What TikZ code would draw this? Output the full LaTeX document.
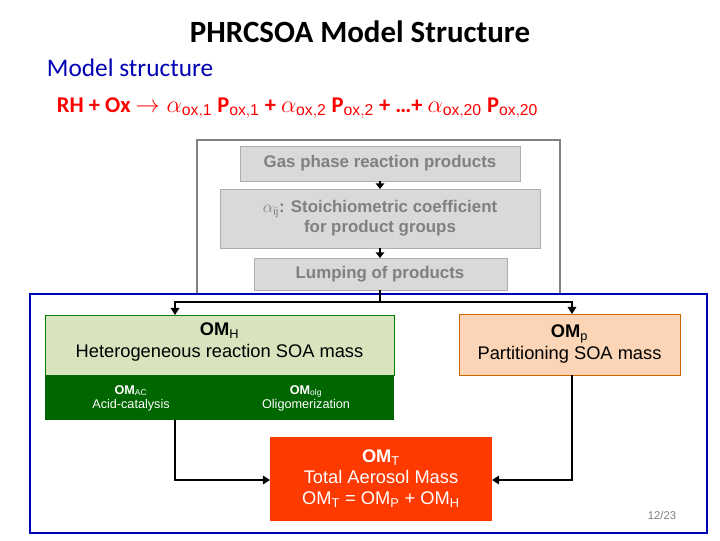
\documentclass[tikz,border=0pt]{standalone}
\usepackage{fontspec}
\setmainfont{Liberation Sans}
\newfontfamily\calibri{Carlito}
\usetikzlibrary{positioning, calc, arrows.meta}
\definecolor{gasgray}{RGB}{217,217,217}
\definecolor{txtgray}{RGB}{128,128,128}
\definecolor{omhgreen}{RGB}{215,228,189}
\definecolor{darkgreen}{RGB}{0,102,0}
\definecolor{ompeach}{RGB}{251,213,181}
\definecolor{omtred}{RGB}{255,58,0}
\definecolor{slideblue}{RGB}{0,0,180}

\begin{document}
\begin{tikzpicture}[x=0.025cm, y=-0.025cm,
  gastext/.style={text=txtgray, font=\bfseries\fontsize{12}{14}\selectfont, align=center},
  flow/.style={-{Triangle[length=5pt,width=6pt]}, line width=1.4pt},
  stage/.style={-{Triangle[length=4pt,width=6pt]}, line width=1pt},
  line/.style={line width=1.4pt}]
\useasboundingbox (0,0) rectangle (720,540);

% title lines
\node[font=\calibri\bfseries\fontsize{22}{24}\selectfont] (title) at (360,32) {PHRCSOA Model Structure};
\node[anchor=west, text=slideblue, font=\calibri\fontsize{18}{20}\selectfont] (sub) at (42,68) {Model structure};
\node[anchor=west, text=red, font=\calibri\bfseries\fontsize{16}{18}\selectfont] (eq) at (52,108)
  {RH + Ox $\rightarrow\alpha_{\mathrm{ox,1}}$ P$_{\mathrm{ox,1}}$ + $\alpha_{\mathrm{ox,2}}$ P$_{\mathrm{ox,2}}$ + \ldots+ $\alpha_{\mathrm{ox,20}}$ P$_{\mathrm{ox,20}}$};

% gas phase block
\draw[txtgray, line width=1.5pt] (197,295) -- (197,140) -- (560,140) -- (560,295);
\filldraw[fill=gasgray, draw=gasgray!80!black] (240,146) rectangle (520,181);
\node[gastext] (gas) at (380,163.5) {Gas phase reaction products};
\filldraw[fill=gasgray, draw=gasgray!80!black] (220,189) rectangle (540,248);
\node[gastext] (alpha) at (380,218.5) {$\alpha_{\mathrm{ij}}$: Stoichiometric coefficient\\for product groups};
\filldraw[fill=gasgray, draw=gasgray!80!black] (254,258) rectangle (507,290);
\node[gastext] (lump) at (380,274) {Lumping of products};
\coordinate (gasS) at (380,181);
\coordinate (alphaN) at (380,189);
\coordinate (alphaS) at (380,248);
\coordinate (lumpN) at (380,258);
\coordinate (lumpS) at (380,290);
\draw[stage] (gasS) -- (alphaN);
\draw[stage] (alphaS) -- (lumpN);

% aerosol block
\draw[slideblue, line width=2pt] (30,294) rectangle (707,533);
\filldraw[fill=omhgreen, draw=green!50!black] (45,315) rectangle (394,375);
\node[align=center, font=\fontsize{13}{15}\selectfont] (omh) at (219.5,342) {\textbf{OM$_{\mathrm{H}}$}\\Heterogeneous reaction SOA mass};
\fill[darkgreen] (45,375) rectangle (394,420);
\node[align=center, text=white, font=\fontsize{9}{10}\selectfont] (omac) at (131,398) {\textbf{OM$_{\mathrm{AC}}$}\\Acid-catalysis};
\node[align=center, text=white, font=\fontsize{9}{10}\selectfont] (omolg) at (306,398) {\textbf{OM$_{\mathrm{olg}}$}\\Oligomerization};
\filldraw[fill=ompeach, draw=orange!80!black] (459,314) rectangle (680,375);
\node[align=center, font=\fontsize{13}{15}\selectfont] (omp) at (569.5,344) {\textbf{OM$_{\mathrm{p}}$}\\Partitioning SOA mass};
\fill[omtred] (270,437) rectangle (492,521);
\node[align=center, text=white, font=\fontsize{13}{15}\selectfont] (omt) at (381,479) {\textbf{OM$_{\mathrm{T}}$}\\Total Aerosol Mass\\OM$_{\mathrm{T}}$ = OM$_{\mathrm{P}}$ + OM$_{\mathrm{H}}$};
\node[text=txtgray, font=\fontsize{8}{9}\selectfont] (page) at (662,515) {12/23};

\coordinate (split) at (380,302);
\coordinate (omhN) at (175,315);
\coordinate (ompN) at (572,314);
\coordinate (omhS) at (175,420);
\coordinate (ompS) at (572,375);
\coordinate (omtW) at (270,480);
\coordinate (omtE) at (492,480);
\draw[line] (lumpS) -- (split);
\draw[flow] (split) -| (omhN);
\draw[flow] (split) -| (ompN);
\draw[flow] (omhS) |- (omtW);
\draw[flow] (ompS) |- (omtE);
\end{tikzpicture}
\end{document}
